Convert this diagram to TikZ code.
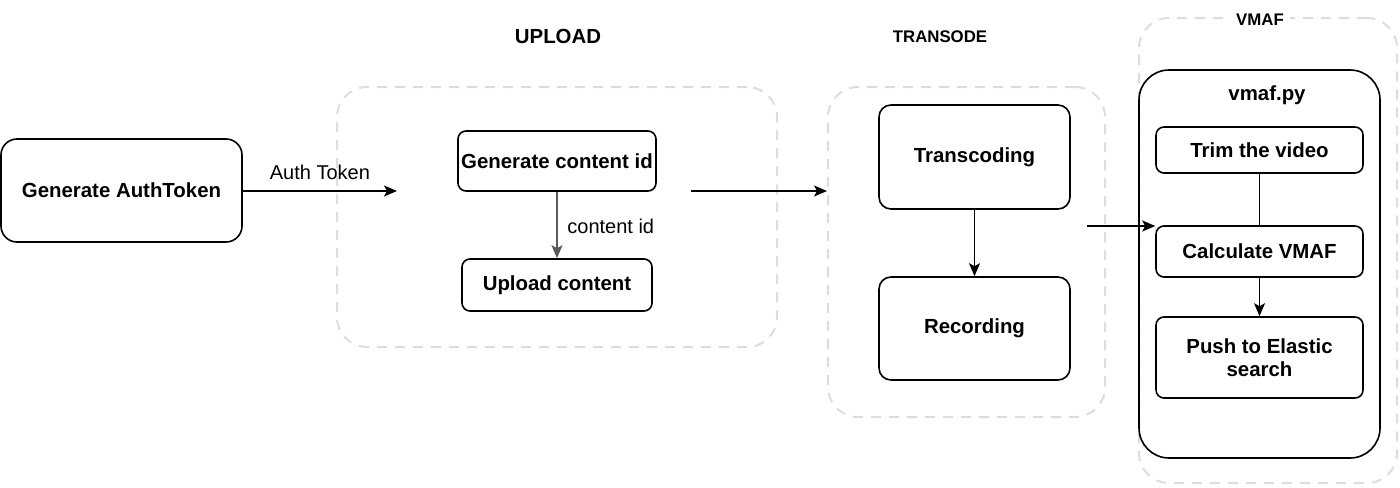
\documentclass[tikz,border=0pt]{standalone}
\usepackage{fontspec}
\setmainfont{Liberation Sans}
\usetikzlibrary{arrows.meta}
\definecolor{groupgray}{HTML}{DDDDDD}
\definecolor{linkgray}{HTML}{5A5A5A}

\begin{document}
\begin{tikzpicture}[x=0.5pt,y=-0.5pt,
	box/.style={draw,line width=0.8pt,rounded corners=#1,align=center,inner sep=0pt,
		font=\bfseries\fontsize{10.2}{11.5}\selectfont},
	box/.default=4pt,
	group/.style={draw=groupgray,line width=1pt,dash pattern=on 5pt off 4pt,rounded corners=15pt,inner sep=0pt},
	title/.style={font=\bfseries\fontsize{#1}{12}\selectfont,inner sep=1pt},
	title/.default=10.2,
	flow/.style={-{Stealth[length=6.5pt,width=5.5pt,inset=1.5pt]},line width=0.75pt}]
	\useasboundingbox (0,0) rectangle (1400,487);
	% groups
	\node[group,minimum width=220pt,minimum height=130pt] (upgrp) at (557,217) {};
	\node[group,minimum width=138.5pt,minimum height=165pt] (trgrp) at (966.5,252) {};
	\node[group,minimum width=129pt,minimum height=232.5pt] (vmgrp) at (1268,250.5) {};
	\node[title] (uplab) at (558,36) {UPLOAD};
	\node[title=8.4] (trlab) at (940,37) {TRANSODE};
	\node[title=8.4,fill=white,inner sep=3pt] (vmlab) at (1260,20) {VMAF};
	% first step
	\node[box=8pt,minimum width=120.5pt,minimum height=51.5pt] (auth) at (121.5,190.5) {Generate AuthToken};
	\coordinate (upin) at (397,191);
	\draw[flow] (auth.east |- upin) -- (upin) node[midway,above=2pt,font=\fontsize{10}{12}\selectfont] {Auth Token};
	% upload
	\node[box,minimum width=99pt,minimum height=30pt] (genid) at (557,161) {Generate content id};
	\node[box,minimum width=95pt,minimum height=26pt] (upcont) at (557,285) {Upload content};
	\draw[flow,draw=linkgray] (genid) -- (upcont);
	\node[anchor=west,inner sep=0pt,font=\fontsize{10}{12}\selectfont] (idlab) at (567,226) {content id};
	\coordinate (upout) at (691,191);
	\coordinate (trin) at (827,191);
	\draw[flow] (upout) -- (trin);
	% transcode
	\node[box=6pt,minimum width=95.5pt,minimum height=52pt] (transc) at (974.5,157) {Transcoding};
	\node[box=6pt,minimum width=95.5pt,minimum height=51.5pt] (record) at (974.5,328.5) {Recording};
	\draw[flow] (transc) -- (record);
	\coordinate (trout) at (1087,226);
	% vmaf
	\node[box=15pt,minimum width=120.5pt,minimum height=194pt] (vmafpy) at (1259.5,264) {};
	\node[title] (pylab) at (1267,95) {vmaf.py};
	\node[box,minimum width=103.5pt,minimum height=23pt] (trim) at (1259.5,150) {Trim the video};
	\node[box,minimum width=103.5pt,minimum height=25.5pt] (calc) at (1259.5,251.5) {Calculate VMAF};
	\node[box,minimum width=103.5pt,minimum height=40.5pt] (push) at (1259.5,357.5) {Push to Elastic\\search};
	\draw[line width=0.75pt] (trim) -- (calc);
	\draw[flow] (calc) -- (push);
	\draw[flow] (trout) -- (trout -| calc.west);
\end{tikzpicture}
\end{document}
